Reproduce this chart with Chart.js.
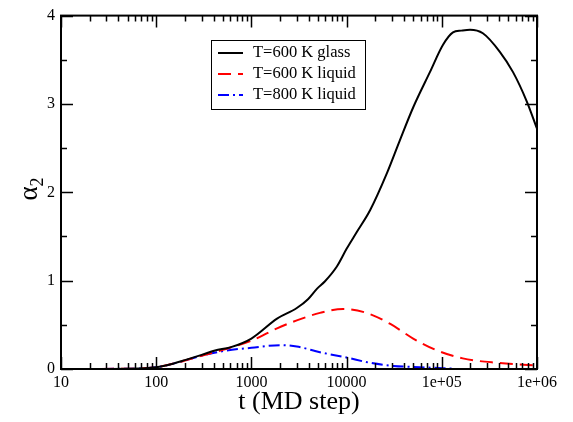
<!DOCTYPE html>
<html>
<head>
<meta charset="utf-8">
<script src="https://cdn.jsdelivr.net/npm/chart.js@4/dist/chart.umd.min.js"></script>
<style>
  html, body { margin: 0; padding: 0; background: #fff; }
  #c { display: block; }
</style>
</head>
<body>
<canvas id="c" width="573" height="422"></canvas>
<script>
// ---- data ----
const tGlass = [10, 20, 50, 100, 150, 200, 300, 415, 600, 1000, 1860, 3000, 3930, 4900, 5900, 7900, 10000, 12800, 17700, 26600, 36000, 50000, 75000, 103000, 131000, 160000, 198000, 270000, 407000, 560000, 780000, 1000000];
const aGlass = [0, 0, 0.003, 0.02, 0.06, 0.1, 0.16, 0.21, 0.245, 0.345, 0.57, 0.69, 0.79, 0.91, 0.99, 1.16, 1.36, 1.55, 1.80, 2.22, 2.58, 2.96, 3.36, 3.67, 3.81, 3.83, 3.84, 3.80, 3.59, 3.36, 3.03, 2.72];

const tLiq600 = [10, 50, 100, 178, 300, 550, 1000, 1860, 3000, 5250, 9200, 16200, 28800, 50000, 89000, 166000, 380000, 1000000];
const aLiq600 = [0, 0.003, 0.02, 0.08, 0.15, 0.23, 0.32, 0.46, 0.55, 0.635, 0.68, 0.635, 0.51, 0.345, 0.21, 0.12, 0.07, 0.04];

const tLiq800 = [10, 50, 100, 178, 300, 550, 1000, 2000, 3000, 5250, 10000, 17700, 31000, 59000, 131000];
const aLiq800 = [0, 0.003, 0.02, 0.08, 0.15, 0.21, 0.24, 0.27, 0.255, 0.19, 0.13, 0.07, 0.035, 0.02, 0.004];

const seriesNames = ['T=600 K glass', 'T=600 K liquid', 'T=800 K liquid'];
const xMajorTicks = [10, 100, 1000, 10000, 100000, 1000000];
const xTickLabels = ['10', '100', '1000', '10000', '1e+05', '1e+06'];
const yMajorTicks = [0, 1, 2, 3, 4];
const yTickLabels = ['0', '1', '2', '3', '4'];
const yMinorTicks = [0.5, 1.5, 2.5, 3.5];
const xTitle = 't (MD step)';
const yTitleMain = 'α';
const yTitleSub = '2';

const SERIF = '"Liberation Serif", "DejaVu Serif", serif';

function pts(ts, vs) { return ts.map((t, i) => ({ x: t, y: vs[i] })); }

const framePlugin = {
  id: 'frame',
  afterDatasetsDraw(chart) {
    const ctx = chart.ctx;
    const a = chart.chartArea;
    const xs = chart.scales.x, ys = chart.scales.y;
    ctx.save();
    ctx.strokeStyle = '#000';
    ctx.lineWidth = 1.5;
    // ticks
    const majL = 12, minL = 6;
    ctx.beginPath();
    for (let d = 10; d <= 1000000; d *= 10) {
      for (let m = 1; m <= 9; m++) {
        const v = d * m;
        if (v > 1000000) break;
        const px = Math.round(xs.getPixelForValue(v)) + 0.5;
        const L = (m === 1) ? majL : minL;
        ctx.moveTo(px, a.bottom); ctx.lineTo(px, a.bottom - L);
        ctx.moveTo(px, a.top); ctx.lineTo(px, a.top + L);
      }
    }
    yMajorTicks.forEach(v => {
      const py = Math.round(ys.getPixelForValue(v)) + 0.5;
      ctx.moveTo(a.left, py); ctx.lineTo(a.left + majL, py);
      ctx.moveTo(a.right, py); ctx.lineTo(a.right - majL, py);
    });
    yMinorTicks.forEach(v => {
      const py = Math.round(ys.getPixelForValue(v)) + 0.5;
      ctx.moveTo(a.left, py); ctx.lineTo(a.left + minL, py);
      ctx.moveTo(a.right, py); ctx.lineTo(a.right - minL, py);
    });
    ctx.stroke();
    // frame
    ctx.lineWidth = 2;
    ctx.strokeRect(a.left, a.top, a.right - a.left, a.bottom - a.top);

    // legend
    const bx = 211, by = 40, bw = 154, bh = 69;
    ctx.fillStyle = '#fff';
    ctx.fillRect(bx, by, bw, bh);
    ctx.lineWidth = 1;
    ctx.strokeRect(bx + 0.5, by + 0.5, bw, bh);
    chart.data.datasets.forEach((ds, i) => {
      const yy = 53 + i * 21;
      ctx.beginPath();
      ctx.strokeStyle = ds.borderColor;
      ctx.lineWidth = 2;
      ctx.setLineDash(ds.borderDash || []);
      ctx.moveTo(218, yy); ctx.lineTo(243, yy);
      ctx.stroke();
      ctx.setLineDash([]);
      ctx.fillStyle = '#000';
      ctx.font = '16.5px ' + SERIF;
      ctx.textBaseline = 'middle';
      ctx.textAlign = 'left';
      ctx.fillText(ds.label, 253, yy);
    });

    // y title
    ctx.save();
    ctx.translate(31, 189);
    ctx.rotate(-Math.PI / 2);
    ctx.fillStyle = '#000';
    ctx.textBaseline = 'alphabetic';
    ctx.textAlign = 'left';
    ctx.font = '27px ' + SERIF;
    const wA = ctx.measureText(yTitleMain).width;
    ctx.font = '18px ' + SERIF;
    const w2 = ctx.measureText(yTitleSub).width;
    const x0 = -(wA + w2) / 2;
    ctx.font = '27px ' + SERIF;
    ctx.fillText(yTitleMain, x0, 6);
    ctx.font = '18px ' + SERIF;
    ctx.fillText(yTitleSub, x0 + wA, 12);
    ctx.restore();

    ctx.restore();
  }
};

new Chart(document.getElementById('c'), {
  type: 'line',
  data: {
    datasets: [
      { label: seriesNames[0], data: pts(tGlass, aGlass), borderColor: '#000000', borderWidth: 2, pointRadius: 0, cubicInterpolationMode: 'monotone', fill: false },
      { label: seriesNames[1], data: pts(tLiq600, aLiq600), borderColor: '#ff0000', borderWidth: 2, borderDash: [13, 7], pointRadius: 0, cubicInterpolationMode: 'monotone', fill: false },
      { label: seriesNames[2], data: pts(tLiq800, aLiq800), borderColor: '#0000ff', borderWidth: 2, borderDash: [11, 4, 2, 4], pointRadius: 0, cubicInterpolationMode: 'monotone', fill: false }
    ]
  },
  options: {
    responsive: false,
    animation: false,
    layout: { padding: { left: 0, right: 36, top: 10, bottom: 0 } },
    plugins: { legend: { display: false }, tooltip: { enabled: false } },
    scales: {
      x: {
        type: 'logarithmic',
        min: 10, max: 1000000,
        grid: { display: false, drawTicks: false },
        border: { display: false },
        afterBuildTicks: (s) => { s.ticks = xMajorTicks.map(v => ({ value: v })); },
        afterFit: (s) => { s.height = 53; },
        ticks: {
          autoSkip: false, maxRotation: 0, minRotation: 0, padding: 4,
          color: '#000', font: { family: SERIF, size: 16 },
          callback: (v) => { const i = xMajorTicks.indexOf(v); return i >= 0 ? xTickLabels[i] : ''; }
        },
        title: { display: true, text: xTitle, color: '#000', font: { family: SERIF, size: 26 }, padding: { top: 0, bottom: 4 } }
      },
      y: {
        min: 0, max: 4,
        grid: { display: false, drawTicks: false },
        border: { display: false },
        afterBuildTicks: (s) => { s.ticks = yMajorTicks.map(v => ({ value: v })); },
        afterFit: (s) => { s.width = 61; },
        ticks: {
          padding: 6, color: '#000', font: { family: SERIF, size: 16 },
          callback: (v) => { const i = yMajorTicks.indexOf(v); return i >= 0 ? yTickLabels[i] : ''; }
        }
      }
    }
  },
  plugins: [framePlugin]
});
</script>
</body>
</html>
